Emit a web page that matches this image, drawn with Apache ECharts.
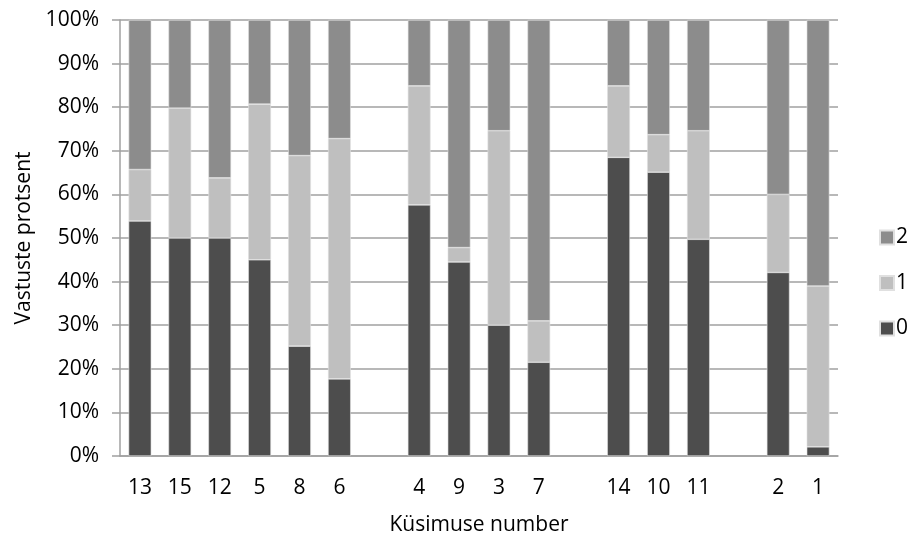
<!DOCTYPE html>
<html>
<head>
<meta charset="utf-8">
<script src="https://cdn.jsdelivr.net/npm/echarts@6/dist/echarts.min.js"></script>
<style>html,body{margin:0;padding:0;background:#fff;}#c{width:912px;height:534px;}</style>
</head>
<body>
<div id="c"></div>
<script>
// categories (empty strings are spacer slots between question groups)
const categories = ['13','15','12','5','8','6',' ','4','9','3','7','  ','14','10','11','   ','2','1'];
// series values (percent of answers), null for spacer slots
const score0 = [53.9, 50.0, 50.0, 45.0, 25.2, 17.7, null, 57.6, 44.5, 30.0, 21.5, null, 68.5, 65.1, 49.7, null, 42.1, 2.1];
const score1 = [11.8, 29.8, 13.8, 35.7, 43.7, 55.1, null, 27.3, 3.3, 44.6, 9.5, null, 16.4, 8.6, 24.9, null, 17.9, 36.9];
const score2 = [34.3, 20.2, 36.2, 19.3, 31.1, 27.2, null, 15.1, 52.2, 25.4, 69.0, null, 15.1, 26.3, 25.4, null, 40.0, 61.0];
const seriesNames = ['0', '1', '2'];
const yTicks = [0, 10, 20, 30, 40, 50, 60, 70, 80, 90, 100];

const FONT = 'Open Sans';
const FS = 21;
const chart = echarts.init(document.getElementById('c'), null, {renderer: 'canvas'});
const colors = ['#4d4d4d', '#bfbfbf', '#8c8c8c'];
const data = [score0, score1, score2];

chart.setOption({
  animation: false,
  textStyle: {fontFamily: FONT, color: '#000'},
  grid: {left: 120, right: 74, top: 20, bottom: 78, containLabel: false, outerBoundsMode: 'none'},
  legend: {
    orient: 'vertical',
    left: 879, top: 227,
    padding: 0,
    itemGap: 24.5,
    itemWidth: 14, itemHeight: 14,
    icon: 'rect',
    data: ['2', '1', '0'],
    textStyle: {fontFamily: FONT, fontSize: FS, color: '#000', lineHeight: 14, padding: [0,0,0,-3]}
  },
  xAxis: {
    type: 'category',
    data: categories,
    name: 'Küsimuse number',
    nameLocation: 'middle',
    nameGap: 59,
    nameTextStyle: {fontFamily: FONT, fontSize: FS, color: '#000'},
    axisLine: {show: true, lineStyle: {color: '#a0a0a0', width: 1.5}},
    axisTick: {show: false},
    axisLabel: {fontFamily: FONT, fontSize: FS, color: '#000', margin: 22, interval: 0}
  },
  yAxis: {
    type: 'value',
    min: yTicks[0], max: yTicks[yTicks.length - 1], interval: 10,
    name: 'Vastuste protsent',
    nameLocation: 'middle',
    nameGap: 82,
    nameTextStyle: {fontFamily: FONT, fontSize: FS, color: '#000'},
    axisLine: {show: true, lineStyle: {color: '#a0a0a0', width: 1.5}},
    axisTick: {show: true, length: 8, lineStyle: {color: '#a0a0a0', width: 1.5}},
    splitLine: {show: true, lineStyle: {color: '#a0a0a0', width: 1.5}},
    axisLabel: {fontFamily: FONT, fontSize: FS, color: '#000', margin: 21, formatter: v => v + '%'}
  },
  series: seriesNames.map((n, i) => ({
    name: n,
    type: 'bar',
    stack: 'total',
    barWidth: '57%',
    data: data[i],
    itemStyle: {color: colors[i], borderColor: '#e0e0e0', borderWidth: 0.6}
  }))
});
</script>
</body>
</html>
